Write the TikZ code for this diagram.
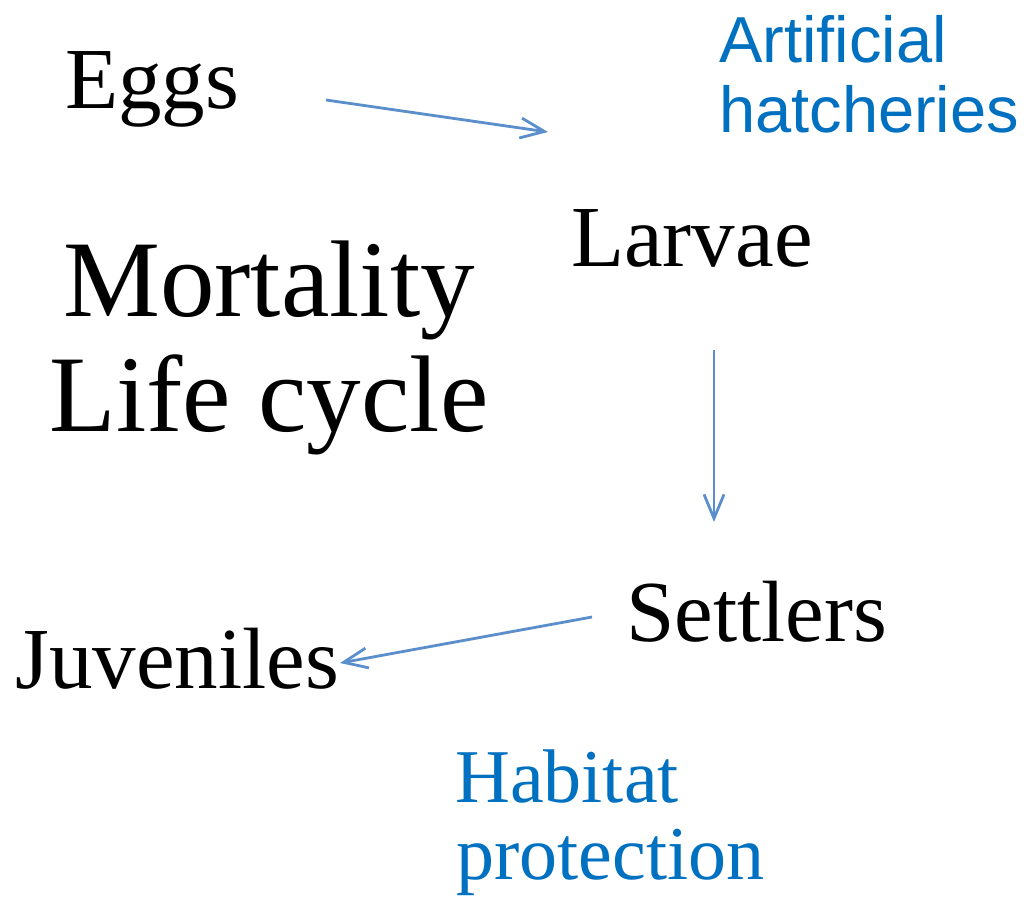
\documentclass[tikz,border=0pt]{standalone}
\usepackage{fontspec}
\setmainfont{Liberation Serif}
\newfontfamily\arialfont{Liberation Sans}
\usetikzlibrary{arrows.meta}
\definecolor{txtblue}{HTML}{0070C0}
\definecolor{arrblue}{HTML}{5B8FCB}
\begin{document}
\begin{tikzpicture}[x=1pt,y=-1pt,
  stage/.style={inner sep=0pt, anchor=base west, font=\fontsize{87}{87}\selectfont},
  big/.style={inner sep=0pt, anchor=base, font=\fontsize{109}{109}\selectfont},
  sansnote/.style={inner sep=0pt, anchor=base west, text=txtblue, font=\arialfont\fontsize{65}{65}\selectfont},
  serifnote/.style={inner sep=0pt, anchor=base west, text=txtblue, font=\fontsize{76}{76}\selectfont},
  flow/.style={draw=arrblue, line width=2.8pt, -{Straight Barb[length=24pt,width=20pt,line width=2.8pt]}}
]
\useasboundingbox[fill=white] (0,0) rectangle (1032,898);
% stages
\node[stage] (eggs) at (65,108) {Eggs};
\node[stage] (larvae) at (571,266) {Larvae};
\node[stage] (settlers) at (626,641) {Settlers};
\node[stage] (juveniles) at (15,688) {Juveniles};
% title
\node[big] (mort) at (269,316) {Mortality};
\node[big] (life) at (269,431) {Life cycle};
% notes
\node[sansnote] (art) at (719,62) {Artificial};
\node[sansnote] (hatch) at (719,132) {hatcheries};
\node[serifnote] (hab) at (455,802) {Habitat};
\node[serifnote] (prot) at (456,879) {protection};
% connectors
\coordinate (e1) at (326,100);
\coordinate (e2) at (548,132);
\coordinate (l1) at (714,350);
\coordinate (l2) at (714,522);
\coordinate (s1) at (592,617);
\coordinate (s2) at (340,663);
\draw[flow] (e1) -- (e2);
\draw[flow] (l1) -- (l2);
\draw[flow] (s1) -- (s2);
\end{tikzpicture}
\end{document}
